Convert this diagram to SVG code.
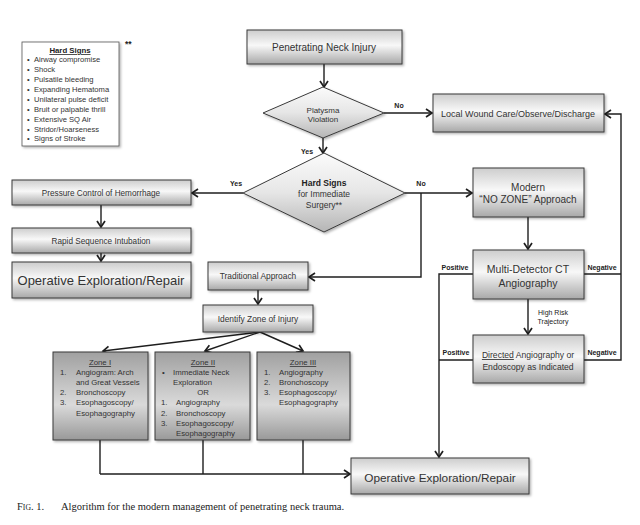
<svg xmlns="http://www.w3.org/2000/svg" width="640" height="525" viewBox="0 0 640 525">
<style>
text{font-family:"Liberation Sans",Arial,sans-serif;fill:#333}
.box{fill:url(#gBox);stroke:#3a3a3a;stroke-width:1;filter:url(#sh)}
.zone{fill:url(#gZone);stroke:#3a3a3a;stroke-width:1;filter:url(#sh)}
.dia{fill:url(#gDia);stroke:#3a3a3a;stroke-width:1;filter:url(#sh)}
.c{text-anchor:middle}
.lbl{font-size:7px;font-weight:bold;fill:#222}
.z{font-size:7.8px}
.hs{font-size:7.6px;fill:#222}
.ln{fill:none;stroke:#1e1e1e;stroke-width:1.4}
.arr{marker-end:url(#ah)}
</style>
<defs>
<linearGradient id="gBox" x1="0" y1="0" x2="0" y2="1">
<stop offset="0" stop-color="#cdcdcd"/><stop offset="0.45" stop-color="#f8f8f8"/><stop offset="1" stop-color="#a8a8a8"/>
</linearGradient>
<linearGradient id="gZone" x1="0" y1="0" x2="0" y2="1">
<stop offset="0" stop-color="#a0a0a0"/><stop offset="0.6" stop-color="#dadada"/><stop offset="1" stop-color="#999999"/>
</linearGradient>
<linearGradient id="gDia" x1="0" y1="0" x2="0" y2="1">
<stop offset="0" stop-color="#fbfbfb"/><stop offset="0.5" stop-color="#e6e6e6"/><stop offset="1" stop-color="#b5b5b5"/>
</linearGradient>
<filter id="sh" x="-10%" y="-10%" width="130%" height="130%">
<feDropShadow dx="1.5" dy="1.5" stdDeviation="1" flood-color="#000" flood-opacity="0.3"/>
</filter>
<marker id="ah" markerUnits="userSpaceOnUse" markerWidth="10" markerHeight="10" refX="8" refY="5" orient="auto">
<path d="M2,1 L8,5 L2,9" fill="none" stroke="#1e1e1e" stroke-width="1.7"/>
</marker>
</defs>
<rect width="640" height="525" fill="#fff"/>

<g id="connectors">
<path class="ln arr" d="M324,64 V87"/>
<path class="ln arr" d="M384,113 H432"/>
<path class="ln arr" d="M323,138 V153"/>
<path class="ln arr" d="M243,193 H192"/>
<path class="ln arr" d="M405,193 H472"/>
<path class="ln arr" d="M421,193 V277 H309"/>
<path class="ln arr" d="M528,217 V249"/>
<path class="ln arr" d="M473,274 H439 V457"/>
<path class="ln" d="M584,274 H621"/>
<path class="ln" d="M473,360 H439"/>
<path class="ln arr" d="M584,360 H621 V114 H605"/>
<path class="ln arr" d="M528,299 V334"/>
<path class="ln arr" d="M101,205 V227"/>
<path class="ln arr" d="M101,253 V261"/>
<path class="ln arr" d="M258,290 V304"/>
<path class="ln arr" d="M260,332 L103,351"/>
<path class="ln arr" d="M260,332 L205,351"/>
<path class="ln arr" d="M260,332 L303,351"/>
<path class="ln" d="M100,440 V474 M203,440 V474 M303,440 V474"/>
<path class="ln arr" d="M100,474 H350"/>
<text class="lbl c" x="399" y="108">No</text>
<text class="lbl c" x="307" y="154">Yes</text>
<text class="lbl c" x="236" y="186">Yes</text>
<text class="lbl c" x="421" y="186">No</text>
<text class="lbl c" x="455" y="270">Positive</text>
<text class="lbl c" x="602" y="270">Negative</text>
<text class="lbl c" x="456" y="355">Positive</text>
<text class="lbl c" x="602" y="355">Negative</text>
<text class="c" x="553" y="315" style="font-size:7px;fill:#222">High Risk</text>
<text class="c" x="553" y="324" style="font-size:7px;fill:#222">Trajectory</text>
</g>

<g id="hard-signs-legend">
<rect x="22" y="42" width="97" height="104" fill="#fff" stroke="#555" stroke-width="0.8" filter="url(#sh)"/>
<text x="125" y="47" style="font-size:8.5px;font-weight:bold;fill:#222">**</text>
<text class="c" x="70" y="53" style="font-size:7.8px;font-weight:bold;text-decoration:underline;fill:#222">Hard Signs</text>
<g class="hs">
<text x="27" y="62">•</text><text x="34" y="62">Airway compromise</text>
<text x="27" y="72">•</text><text x="34" y="72">Shock</text>
<text x="27" y="82">•</text><text x="34" y="82">Pulsatile bleeding</text>
<text x="27" y="92">•</text><text x="34" y="92">Expanding Hematoma</text>
<text x="27" y="102">•</text><text x="34" y="102">Unilateral pulse deficit</text>
<text x="27" y="112">•</text><text x="34" y="112">Bruit or palpable thrill</text>
<text x="27" y="122">•</text><text x="34" y="122">Extensive SQ Air</text>
<text x="27" y="132">•</text><text x="34" y="132">Stridor/Hoarseness</text>
<text x="27" y="141">•</text><text x="34" y="141">Signs of Stroke</text>
</g>
</g>

<g id="penetrating">
<rect class="box" x="247" y="30" width="155" height="34"/>
<text class="c" x="324" y="51" style="font-size:10px">Penetrating Neck Injury</text>
</g>

<g id="platysma">
<polygon class="dia" points="323,87 384,113 323,138 263,113"/>
<text class="c" x="323" y="113" style="font-size:8px">Platysma</text>
<text class="c" x="323" y="122" style="font-size:8px">Violation</text>
</g>

<g id="local-wound">
<rect class="box" x="433" y="94" width="171" height="38"/>
<text class="c" x="518" y="117" style="font-size:9px">Local Wound Care/Observe/Discharge</text>
</g>

<g id="hard-signs-decision">
<polygon class="dia" points="324,153 405,193 324,232 243,193"/>
<text class="c" x="324" y="186" style="font-size:8.5px;font-weight:bold;fill:#222">Hard Signs</text>
<text class="c" x="324" y="197" style="font-size:8.5px">for Immediate</text>
<text class="c" x="324" y="208" style="font-size:8.5px">Surgery**</text>
</g>

<g id="pressure">
<rect class="box" x="12" y="180" width="179" height="25"/>
<text class="c" x="101" y="196" style="font-size:8.2px">Pressure Control of Hemorrhage</text>
</g>

<g id="rapid">
<rect class="box" x="12" y="228" width="179" height="25"/>
<text class="c" x="101" y="244" style="font-size:8.2px">Rapid Sequence Intubation</text>
</g>

<g id="operative-left">
<rect class="box" x="12" y="262" width="179" height="36"/>
<text class="c" x="101" y="284.5" style="font-size:13px">Operative Exploration/Repair</text>
</g>

<g id="modern">
<rect class="box" x="473" y="168" width="111" height="49"/>
<text class="c" x="528" y="191" style="font-size:10px">Modern</text>
<text class="c" x="528" y="203" style="font-size:10px">“NO ZONE” Approach</text>
</g>

<g id="ct">
<rect class="box" x="473" y="250" width="111" height="49"/>
<text class="c" x="528" y="273" style="font-size:10.5px">Multi-Detector CT</text>
<text class="c" x="528" y="287" style="font-size:10.5px">Angiography</text>
</g>

<g id="directed">
<rect class="box" x="473" y="335" width="111" height="48"/>
<text class="c" x="528" y="358" style="font-size:8.6px"><tspan style="text-decoration:underline">Directed</tspan> Angiography or</text>
<text class="c" x="528" y="370" style="font-size:8.6px">Endoscopy as Indicated</text>
</g>

<g id="traditional">
<rect class="box" x="208" y="262" width="100" height="28"/>
<text class="c" x="258" y="279" style="font-size:8.4px">Traditional Approach</text>
</g>

<g id="identify">
<rect class="box" x="203" y="305" width="110" height="27"/>
<text class="c" x="258" y="321.5" style="font-size:8.4px">Identify Zone of Injury</text>
</g>

<g id="zone1">
<rect class="zone" x="53" y="352" width="95" height="88"/>
<g class="z">
<text class="c" x="100" y="365" style="text-decoration:underline">Zone I</text>
<text x="60" y="375">1.</text><text x="76" y="375">Angiogram: Arch</text>
<text x="76" y="385">and Great Vessels</text>
<text x="60" y="395">2.</text><text x="76" y="395">Bronchoscopy</text>
<text x="60" y="405">3.</text><text x="76" y="405">Esophagoscopy/</text>
<text x="76" y="415.5">Esophagography</text>
</g>
</g>

<g id="zone2">
<rect class="zone" x="155" y="352" width="95" height="88"/>
<g class="z">
<text class="c" x="203" y="365" style="text-decoration:underline">Zone II</text>
<text x="162" y="375">•</text><text x="173" y="375">Immediate Neck</text>
<text x="173" y="385">Exploration</text>
<text class="c" x="203" y="395">OR</text>
<text x="161" y="405">1.</text><text x="176" y="405">Angiography</text>
<text x="161" y="415.5">2.</text><text x="176" y="415.5">Bronchoscopy</text>
<text x="161" y="426">3.</text><text x="176" y="426">Esophagoscopy/</text>
<text x="176" y="436">Esophagography</text>
</g>
</g>

<g id="zone3">
<rect class="zone" x="257" y="352" width="93" height="88"/>
<g class="z">
<text class="c" x="303" y="365" style="text-decoration:underline">Zone III</text>
<text x="264" y="375">1.</text><text x="279" y="375">Angiography</text>
<text x="264" y="385">2.</text><text x="279" y="385">Bronchoscopy</text>
<text x="264" y="395">3.</text><text x="279" y="395">Esophagoscopy/</text>
<text x="279" y="405">Esophagography</text>
</g>
</g>

<g id="operative-bottom">
<rect class="box" x="351" y="458" width="178" height="36"/>
<text class="c" x="440" y="482" style="font-size:11.8px">Operative Exploration/Repair</text>
</g>

<text x="17" y="510" style="font-family:'Liberation Serif','Times New Roman',serif;font-size:10.5px;fill:#222">F<tspan style="font-size:7.7px">IG</tspan>. 1.<tspan x="61">Algorithm for the modern management of penetrating neck trauma.</tspan></text>
</svg>
